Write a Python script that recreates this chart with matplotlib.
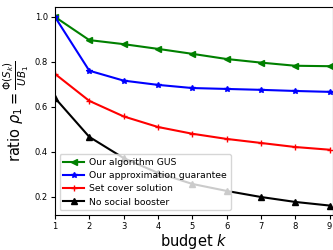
import matplotlib
matplotlib.use("Agg")
import matplotlib.pyplot as plt

# budget values
budget = [1, 2, 3, 4, 5, 6, 7, 8, 9]

# ratio values
gus = [1.0, 0.897, 0.879, 0.858, 0.836, 0.813, 0.797, 0.783, 0.781]
approx = [1.0, 0.761, 0.717, 0.698, 0.684, 0.680, 0.676, 0.671, 0.667]
set_cover = [0.747, 0.627, 0.558, 0.511, 0.481, 0.458, 0.440, 0.422, 0.410]
no_booster = [0.640, 0.467, 0.373, 0.307, 0.258, 0.227, 0.200, 0.178, 0.162]

fig = plt.figure(figsize=(3.33, 2.5), dpi=100)
ax = fig.add_axes([0.165, 0.14, 0.835, 0.832])

ax.plot(budget, gus, color="green", marker="<", markersize=4,
        linewidth=1.5, label="Our algorithm GUS")
ax.plot(budget, approx, color="blue", marker="*", markersize=4,
        linewidth=1.5, label="Our approximation guarantee")
ax.plot(budget, set_cover, color="red", marker="+", markersize=4,
        linewidth=1.5, label="Set cover solution")
ax.plot(budget, no_booster, color="black", marker="^", markersize=4,
        linewidth=1.5, label="No social booster")

ax.set_xlim(1, 9.1)
ax.set_ylim(0.12, 1.044)
ax.set_xticks(budget)
ax.set_yticks([0.2, 0.4, 0.6, 0.8, 1.0])
ax.tick_params(labelsize=6, length=3, pad=2)

ax.set_xlabel("budget $k$", fontsize=10.5, labelpad=1)
ax.set_ylabel(r"ratio $\rho_1 = \frac{\Phi(S_k)}{UB_1}$", fontsize=10.5, labelpad=3)

ax.legend(loc="lower left", fontsize=6.7, handlelength=2.2,
          borderpad=0.4, labelspacing=0.45, handletextpad=0.6)

fig.savefig("out.png", dpi=100)
